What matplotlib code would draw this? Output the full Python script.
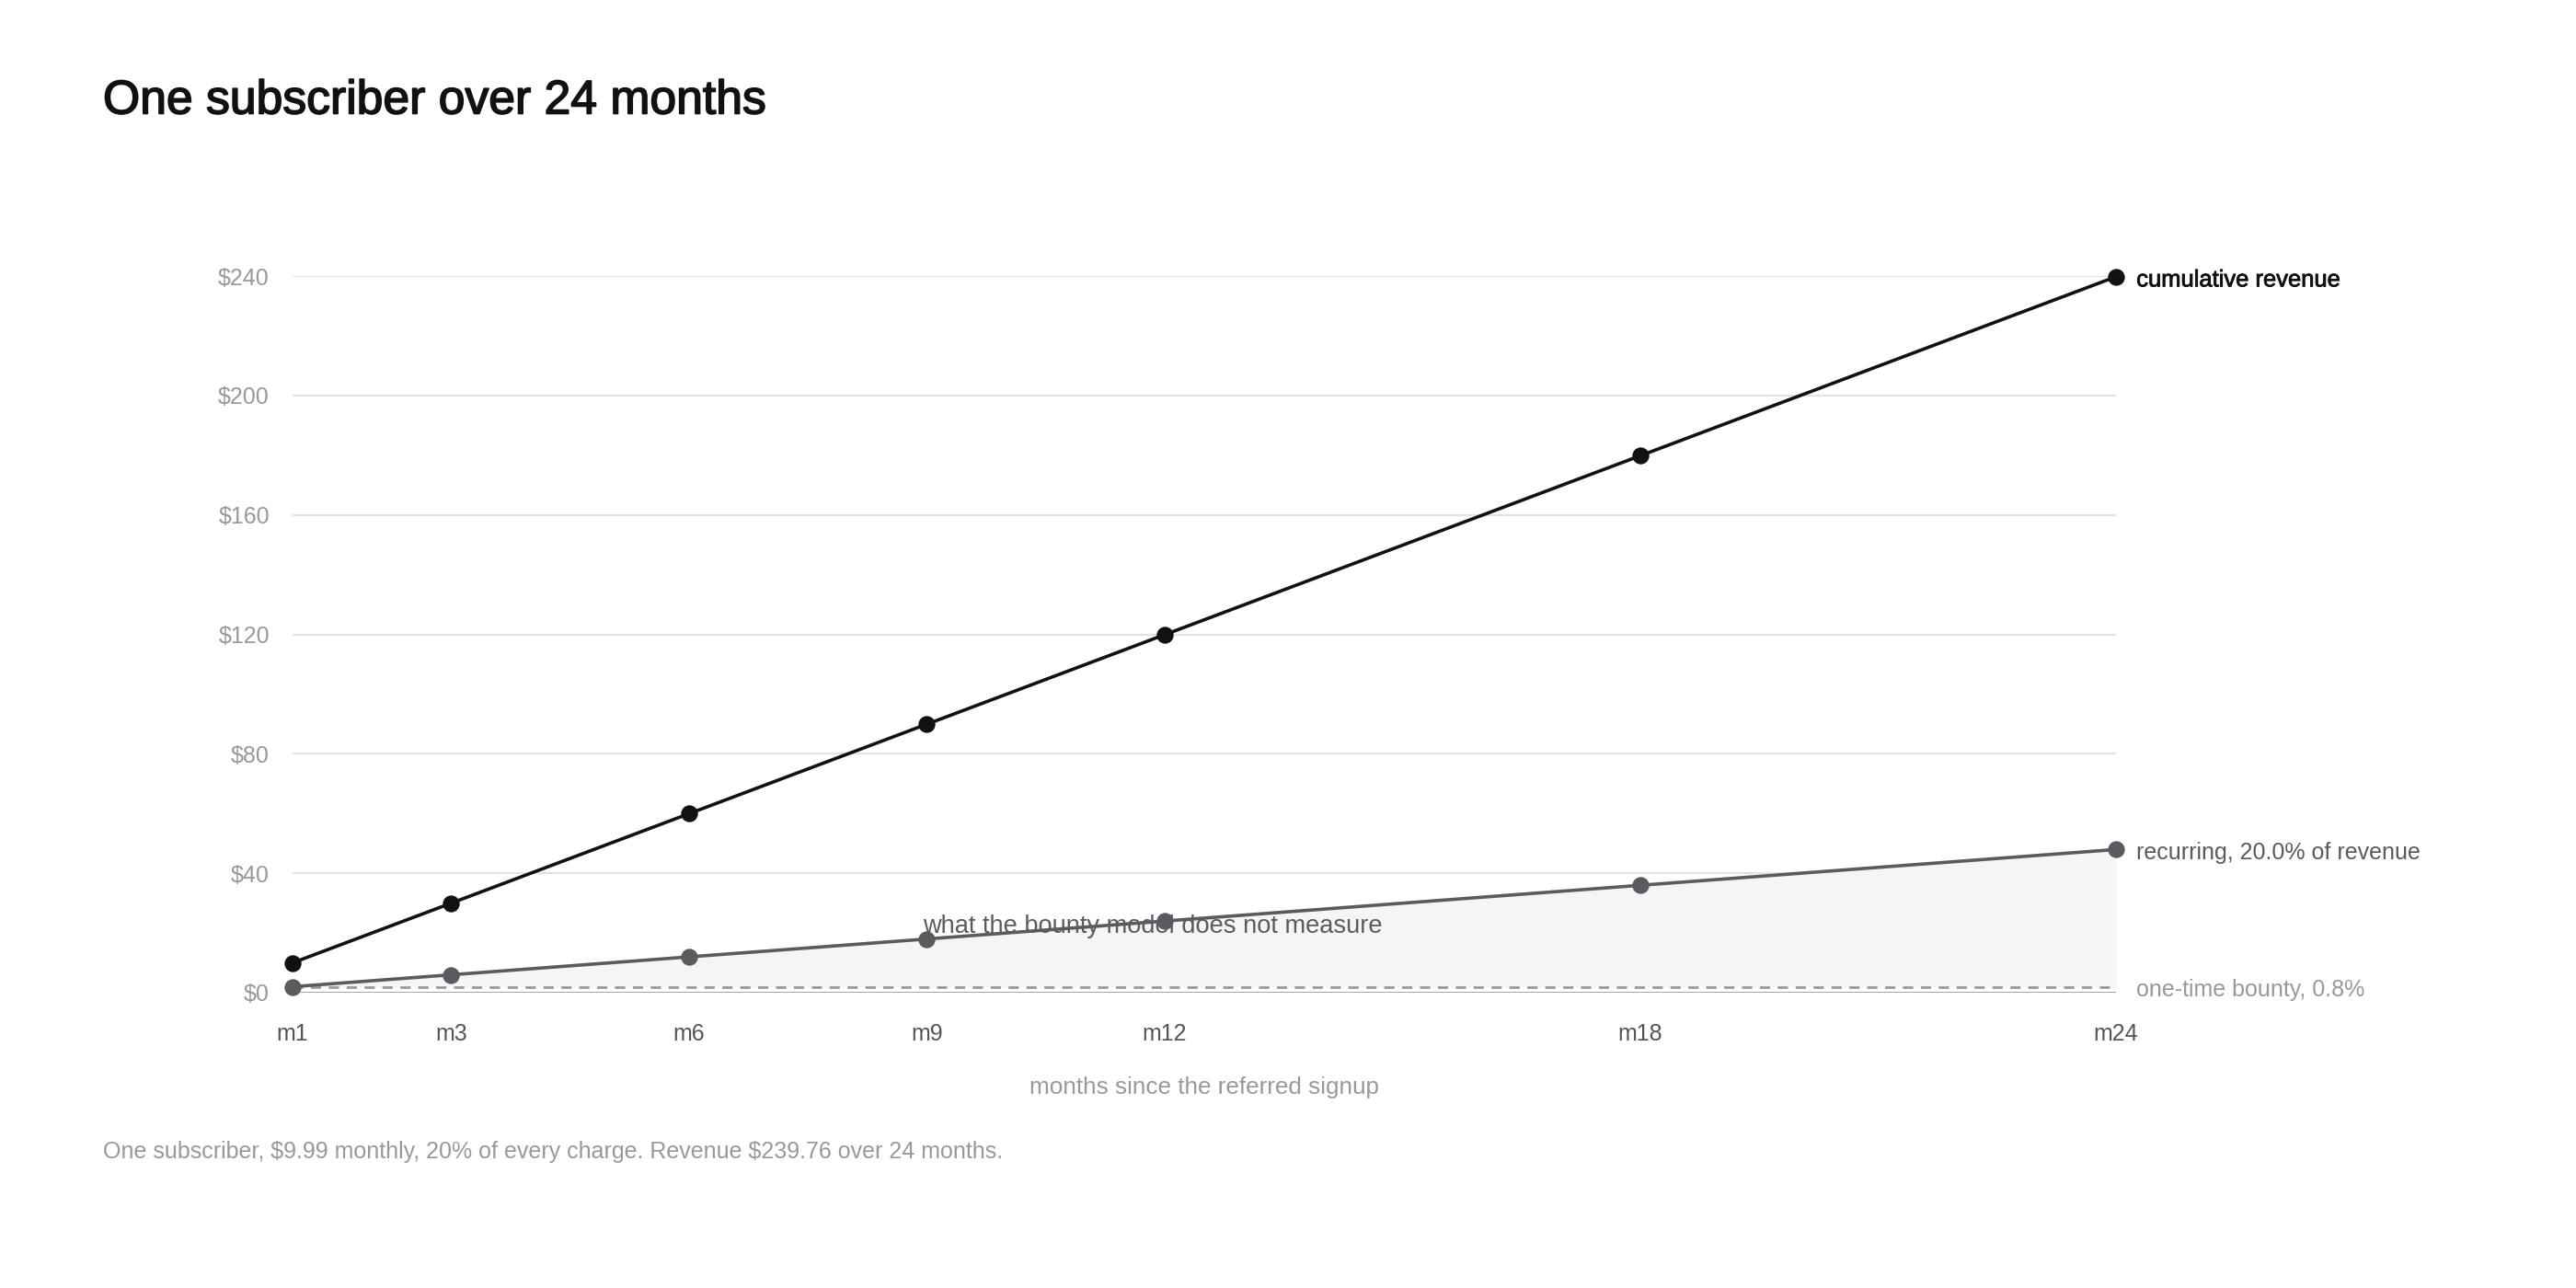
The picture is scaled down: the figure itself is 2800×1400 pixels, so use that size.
import matplotlib
matplotlib.use("Agg")
import matplotlib.pyplot as plt
import matplotlib.patheffects as pe

plt.rcParams['font.family'] = ['Liberation Sans', 'DejaVu Sans']
plt.rcParams['text.parse_math'] = False

months = [1, 3, 6, 9, 12, 18, 24]
month_labels = ["m1", "m3", "m6", "m9", "m12", "m18", "m24"]
cumulative = [9.99, 29.97, 59.94, 89.91, 119.88, 179.82, 239.76]
recurring = [2.00, 5.99, 11.99, 17.98, 23.98, 35.96, 47.95]
bounty = 1.92
yticks = [0, 40, 80, 120, 160, 200, 240]
ytick_labels = ["$0", "$40", "$80", "$120", "$160", "$200", "$240"]

fig = plt.figure(figsize=(14, 7), dpi=200)
ax = fig.add_axes([318/2800, 321/1400, (2300-318)/2800, (1079-300)/1400])

ax.set_xlim(1, 24)
ax.set_ylim(0, 240)

for y in yticks[1:]:
    ax.axhline(y, color="#e3e3e3", lw=0.8, zorder=0)
ax.axhline(0, color="#999999", lw=1.0, zorder=1)

ax.fill_between(months, [bounty]*len(months), recurring, color="#f5f5f5", lw=0, zorder=1)
ax.plot([1, 24], [bounty, bounty], color="#999999", lw=1.0, ls=(0, (4, 3)), zorder=2)

ax.text(8.95, 22.2, "what the bounty model does not measure", ha="left", va="center",
        fontsize=9.8, color="#5a5a60", zorder=2.5)

ax.plot(months, recurring, color="#5a5a60", lw=1.3, marker="o", ms=5.6, zorder=3, clip_on=False)
ax.plot(months, cumulative, color="#111111", lw=1.3, marker="o", ms=5.6, zorder=4, clip_on=False)

ax.annotate("cumulative revenue", (24, cumulative[-1]), xytext=(8, -1.3), textcoords="offset points",
            va="center", ha="left", fontsize=9.2, color="#111111",
            path_effects=[pe.withStroke(linewidth=0.3, foreground="#111111")])
ax.annotate("recurring, 20.0% of revenue", (24, recurring[-1]), xytext=(8, -1.3), textcoords="offset points",
            va="center", ha="left", fontsize=9, color="#5a5a60")
ax.annotate("one-time bounty, 0.8%", (24, bounty), xytext=(8, -1.3), textcoords="offset points",
            va="center", ha="left", fontsize=9, color="#999999")

ax.set_xticks(months)
ax.set_xticklabels(month_labels, color="#555555", fontsize=9)
ax.set_yticks(yticks)
ax.set_yticklabels(ytick_labels, color="#999999", fontsize=9)
ax.tick_params(axis="both", length=0)
ax.tick_params(axis="x", pad=12)
ax.tick_params(axis="y", pad=9)
for s in ax.spines.values():
    s.set_visible(False)

ax.set_xlabel("months since the referred signup", color="#999999", fontsize=9.4, labelpad=12)

fig.text(112/2800, 1-110/1400, "One subscriber over 24 months", fontsize=18.6, color="#111111",
         ha="left", va="center",
         path_effects=[pe.withStroke(linewidth=0.6, foreground="#111111")])
fig.text(112/2800, 1-1252/1400,
         "One subscriber, $9.99 monthly, 20% of every charge. Revenue $239.76 over 24 months.",
         fontsize=9, color="#999999", ha="left", va="center")

fig.savefig("out.png", dpi=200, facecolor="white")
